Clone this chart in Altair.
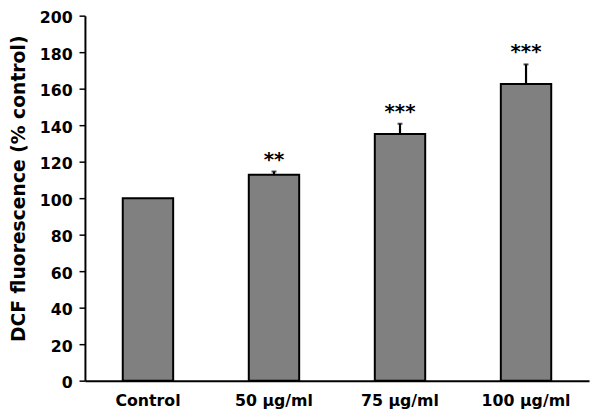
import altair as alt
import pandas as pd

categories = ["Control", "50 µg/ml", "75 µg/ml", "100 µg/ml"]
means = [100, 112.8, 135.2, 162.5]
errors = [0, 1.8, 5.6, 10.8]
stars = ["", "**", "***", "***"]
yticks = [0, 20, 40, 60, 80, 100, 120, 140, 160, 180, 200]

df = pd.DataFrame({"cat": categories, "mean": means, "err": errors, "stars": stars})
df["top"] = df["mean"] + df["err"]

FONT = "DejaVu Sans"

xaxis = alt.Axis(
    title=None, labelAngle=0, ticks=False, domainColor="black", domainWidth=2,
    labelFont=FONT, labelFontWeight="bold", labelFontSize=16, labelColor="black",
    labelPadding=12,
)
xscale = alt.Scale(paddingInner=0.6, paddingOuter=0.3)

yaxis = alt.Axis(
    title="DCF fluorescence (% control)",
    values=yticks,
    labelOverlap=False,
    grid=False, domainColor="black", domainWidth=2,
    tickColor="black", tickSize=6, tickWidth=1.5,
    labelFont=FONT, labelFontWeight="bold", labelFontSize=16, labelColor="black",
    labelPadding=7, labelOffset=2,
    titleFont=FONT, titleFontWeight="bold", titleFontSize=19, titleColor="black",
    titleX=-61, titleY=175, titleBaseline="alphabetic", titleAngle=-90,
)
yscale = alt.Scale(domain=[0, 200], nice=False)


def X():
    return alt.X("cat:N", sort=categories, scale=xscale, axis=xaxis)


def Y(field):
    return alt.Y(field, scale=yscale, axis=yaxis, title="DCF fluorescence (% control)")


bars = alt.Chart(df).mark_bar(fill="#808080", stroke="black", strokeWidth=2).encode(
    x=X(), y=Y("mean:Q"),
)

errdf = df[df["err"] > 0]

rules = alt.Chart(errdf).mark_rule(color="black", strokeWidth=2.2).encode(
    x=X(), y=Y("mean:Q"), y2="top:Q",
)

caps = alt.Chart(errdf).mark_tick(color="black", thickness=2, size=5, orient="horizontal").encode(
    x=X(), y=Y("top:Q"),
)

text = alt.Chart(errdf).mark_text(
    font=FONT, fontWeight="bold", fontSize=20, color="black", baseline="alphabetic", dy=-6
).encode(
    x=X(), y=Y("top:Q"), text="stars:N",
)

chart = (
    alt.layer(bars, rules, caps, text)
    .properties(
        width=511, height=370,
        autosize=alt.AutoSizeParams(type="none"),
        padding={"left": 78, "top": 5, "right": 3, "bottom": 30},
    )
    .configure_view(stroke=None)
)

chart.save("out.html", embed_options={"renderer": "svg", "actions": False})
